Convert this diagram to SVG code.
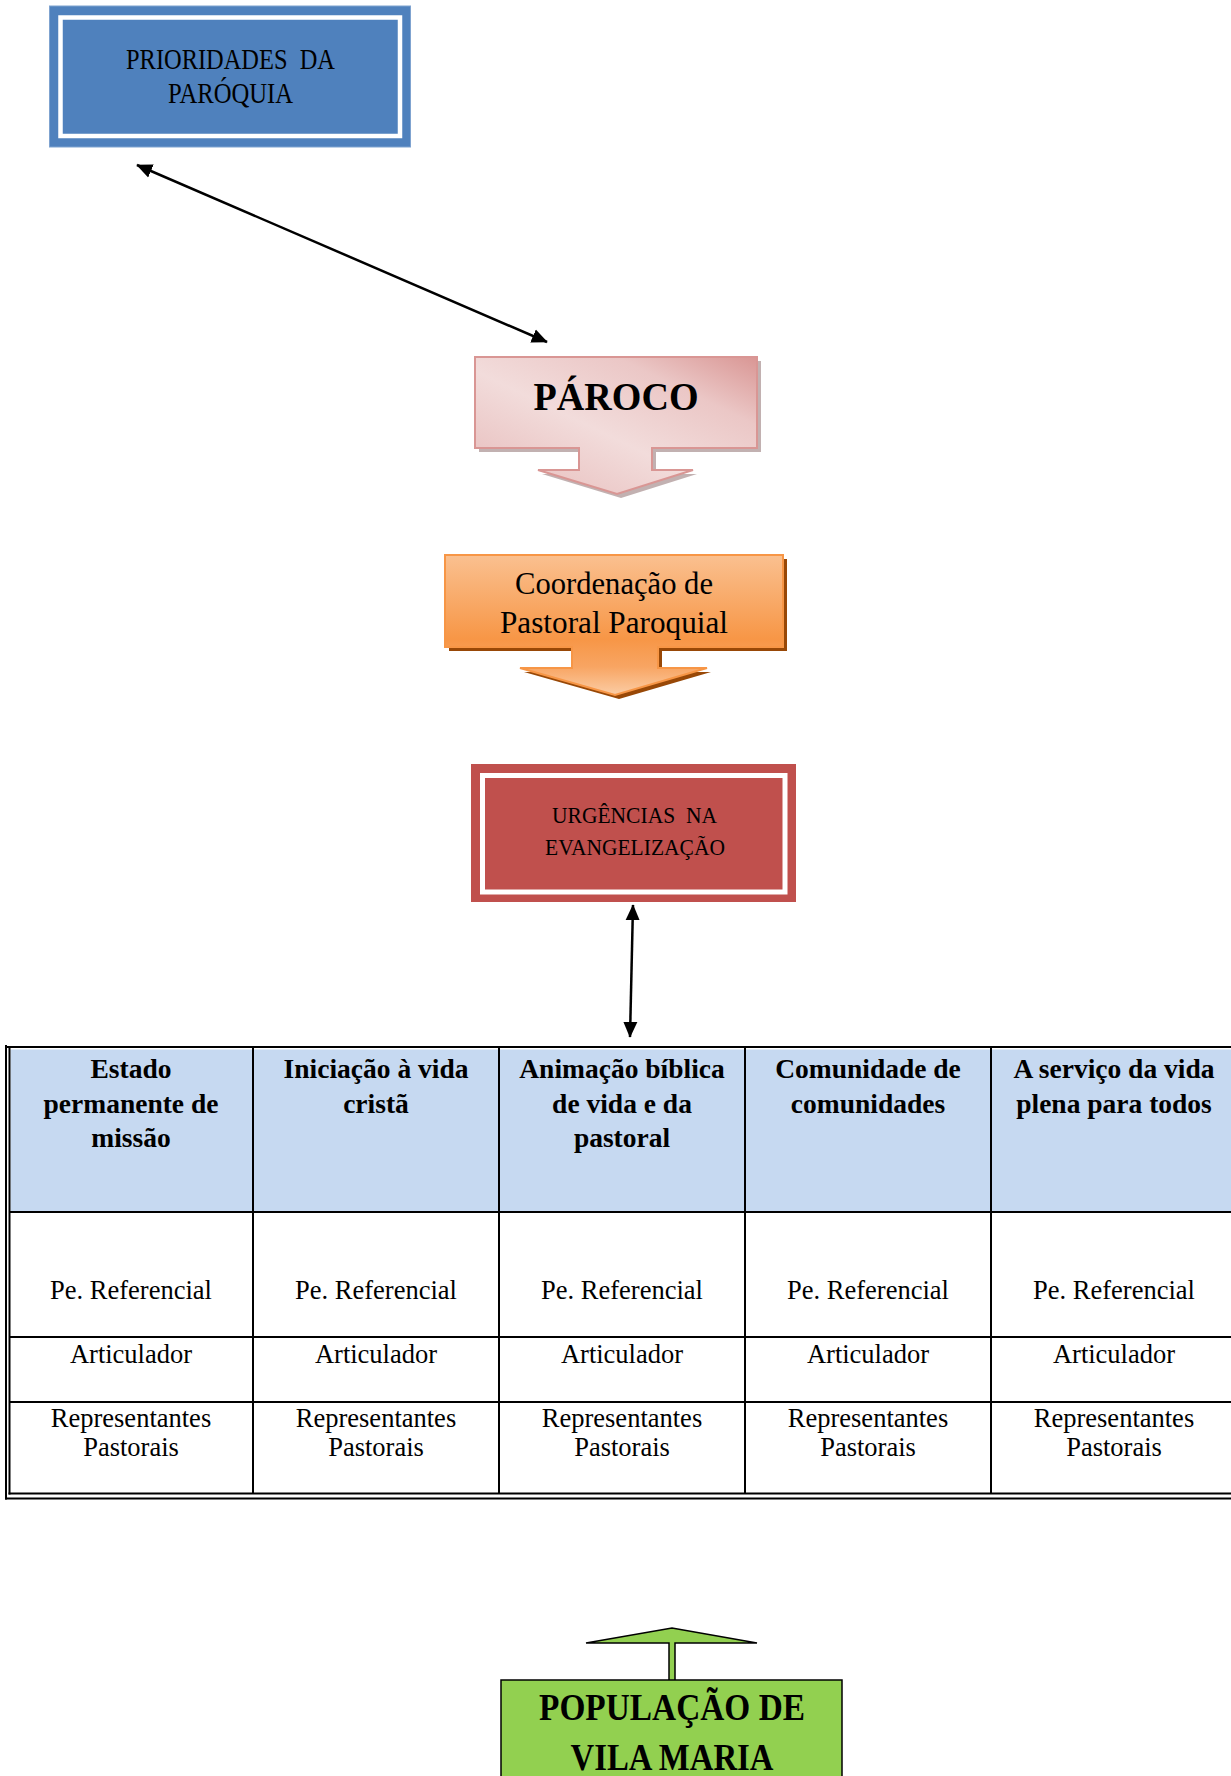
<svg xmlns="http://www.w3.org/2000/svg" width="1231" height="1776" viewBox="0 0 1231 1776">
<style>
.cap{font-family:"Liberation Serif",serif;fill:#000;text-anchor:middle}
.hd{font-family:"Liberation Serif",serif;font-weight:bold;font-size:27.5px;fill:#000;text-anchor:middle}
.bd{font-family:"Liberation Serif",serif;font-size:26.5px;fill:#000;text-anchor:middle}
.tl{stroke:#000;stroke-width:2;fill:none}
.conn{stroke:#000;stroke-width:2.5;fill:none;marker-start:url(#ah);marker-end:url(#ah)}
</style>
<defs>
<marker id="ah" viewBox="0 0 10 10" refX="9.5" refY="5" markerWidth="16" markerHeight="16" markerUnits="userSpaceOnUse" orient="auto-start-reverse">
<path d="M0,0.6 L10,5 L0,9.4 z" fill="#000"/>
</marker>
<linearGradient id="pink" x1="0" y1="1" x2="1" y2="0">
<stop offset="0" stop-color="#E6B9B8"/>
<stop offset="0.45" stop-color="#F2DCDB"/>
<stop offset="0.75" stop-color="#EBC7C6"/>
<stop offset="1" stop-color="#D99694"/>
</linearGradient>
<linearGradient id="orange" x1="0" y1="0" x2="0" y2="1">
<stop offset="0" stop-color="#FAC090"/>
<stop offset="0.6" stop-color="#F79646"/>
<stop offset="0.8" stop-color="#F8A563"/>
<stop offset="1" stop-color="#FBCDA5"/>
</linearGradient>
</defs>
<rect width="1231" height="1776" fill="#fff"/>

<g id="prioridades">
<rect x="49.5" y="6" width="361" height="141" fill="#4F81BD" stroke="#7FA3D0" stroke-width="1"/>
<rect x="60.5" y="17.5" width="339.5" height="118.5" fill="none" stroke="#fff" stroke-width="4.5"/>
<text class="cap" x="230.5" y="69" font-size="29" textLength="209" lengthAdjust="spacingAndGlyphs">PRIORIDADES&#160; DA</text>
<text class="cap" x="230.5" y="103" font-size="29" textLength="125" lengthAdjust="spacingAndGlyphs">PARÓQUIA</text>
</g>

<g id="paroco">
<path d="M479,361 H761 V452 H656 V474 H697 L621,498 L542,474 H583 V452 H479 Z" fill="#A89090" opacity="0.7"/>
<path d="M475,357 H757 V448 H652 V470 H693 L617,494 L538,470 H579 V448 H475 Z" fill="url(#pink)" stroke="#D99694" stroke-width="2"/>
<text class="cap" x="616" y="410" font-size="41" font-weight="bold" textLength="165" lengthAdjust="spacingAndGlyphs">PÁROCO</text>
</g>

<g id="coordenacao">
<path d="M449,559 H787 V651 H662 V672 H711 L619,699 L524,672 H576 V651 H449 Z" fill="#984807"/>
<path d="M445,555 H783 V647 H658 V668 H707 L615,695 L520,668 H572 V647 H445 Z" fill="url(#orange)" stroke="#F79646" stroke-width="2"/>
<text class="cap" x="614" y="594" font-size="31" textLength="198" lengthAdjust="spacingAndGlyphs">Coordenação de</text>
<text class="cap" x="614" y="633" font-size="31" textLength="228" lengthAdjust="spacingAndGlyphs">Pastoral Paroquial</text>
</g>

<g id="urgencias">
<rect x="471" y="764" width="325" height="138" fill="#C0504D"/>
<rect x="482.5" y="775.5" width="302.5" height="116.5" fill="none" stroke="#fff" stroke-width="5"/>
<text class="cap" x="634.5" y="823" font-size="23" textLength="165" lengthAdjust="spacingAndGlyphs">URGÊNCIAS&#160; NA</text>
<text class="cap" x="635" y="855" font-size="23" textLength="180" lengthAdjust="spacingAndGlyphs">EVANGELIZAÇÃO</text>
</g>

<g id="connectors">
<line class="conn" x1="137" y1="165" x2="547" y2="342"/>
<line class="conn" x1="633" y1="905" x2="630" y2="1037"/>
</g>

<g id="tabela">
<rect x="10.5" y="1049.5" width="1221" height="162.5" fill="#C6D9F1"/>
<line class="tl" x1="5" y1="1047" x2="1231" y2="1047" stroke-width="4"/>
<line class="tl" x1="6" y1="1045" x2="6" y2="1499.5" stroke-width="1.5"/>
<line class="tl" x1="9.5" y1="1048" x2="9.5" y2="1494.5"/>
<line class="tl" x1="8.5" y1="1493.5" x2="1231" y2="1493.5"/>
<line class="tl" x1="5" y1="1498.5" x2="1231" y2="1498.5" stroke-width="1.5"/>
<line class="tl" x1="253" y1="1048" x2="253" y2="1494"/>
<line class="tl" x1="499" y1="1048" x2="499" y2="1494"/>
<line class="tl" x1="745" y1="1048" x2="745" y2="1494"/>
<line class="tl" x1="991" y1="1048" x2="991" y2="1494"/>
<line class="tl" x1="9.5" y1="1212" x2="1231" y2="1212"/>
<line class="tl" x1="9.5" y1="1337" x2="1231" y2="1337"/>
<line class="tl" x1="9.5" y1="1402" x2="1231" y2="1402"/>

<text class="hd" x="131" y="1078">Estado</text>
<text class="hd" x="131" y="1112.5">permanente de</text>
<text class="hd" x="131" y="1147">missão</text>
<text class="hd" x="376" y="1078">Iniciação à vida</text>
<text class="hd" x="376" y="1112.5">cristã</text>
<text class="hd" x="622" y="1078">Animação bíblica</text>
<text class="hd" x="622" y="1112.5">de vida e da</text>
<text class="hd" x="622" y="1147">pastoral</text>
<text class="hd" x="868" y="1078">Comunidade de</text>
<text class="hd" x="868" y="1112.5">comunidades</text>
<text class="hd" x="1114" y="1078">A serviço da vida</text>
<text class="hd" x="1114" y="1112.5">plena para todos</text>

<text class="bd" x="131" y="1299">Pe. Referencial</text>
<text class="bd" x="376" y="1299">Pe. Referencial</text>
<text class="bd" x="622" y="1299">Pe. Referencial</text>
<text class="bd" x="868" y="1299">Pe. Referencial</text>
<text class="bd" x="1114" y="1299">Pe. Referencial</text>
<text class="bd" x="131" y="1363">Articulador</text>
<text class="bd" x="376" y="1363">Articulador</text>
<text class="bd" x="622" y="1363">Articulador</text>
<text class="bd" x="868" y="1363">Articulador</text>
<text class="bd" x="1114" y="1363">Articulador</text>
<text class="bd" x="131" y="1427">Representantes</text>
<text class="bd" x="131" y="1456">Pastorais</text>
<text class="bd" x="376" y="1427">Representantes</text>
<text class="bd" x="376" y="1456">Pastorais</text>
<text class="bd" x="622" y="1427">Representantes</text>
<text class="bd" x="622" y="1456">Pastorais</text>
<text class="bd" x="868" y="1427">Representantes</text>
<text class="bd" x="868" y="1456">Pastorais</text>
<text class="bd" x="1114" y="1427">Representantes</text>
<text class="bd" x="1114" y="1456">Pastorais</text>
</g>

<g id="populacao">
<path d="M669,1681 V1643 H586 L672,1628 L757,1643 H675 V1681" fill="#92D050" stroke="#000" stroke-width="1.5" stroke-linejoin="miter"/>
<rect x="501" y="1680" width="341" height="110" fill="#92D050" stroke="#000" stroke-width="1.5"/>
<text class="cap" x="672" y="1720" font-size="37" font-weight="bold" textLength="266" lengthAdjust="spacingAndGlyphs">POPULAÇÃO DE</text>
<text class="cap" x="672" y="1770" font-size="37" font-weight="bold" textLength="203" lengthAdjust="spacingAndGlyphs">VILA MARIA</text>
</g>
</svg>
